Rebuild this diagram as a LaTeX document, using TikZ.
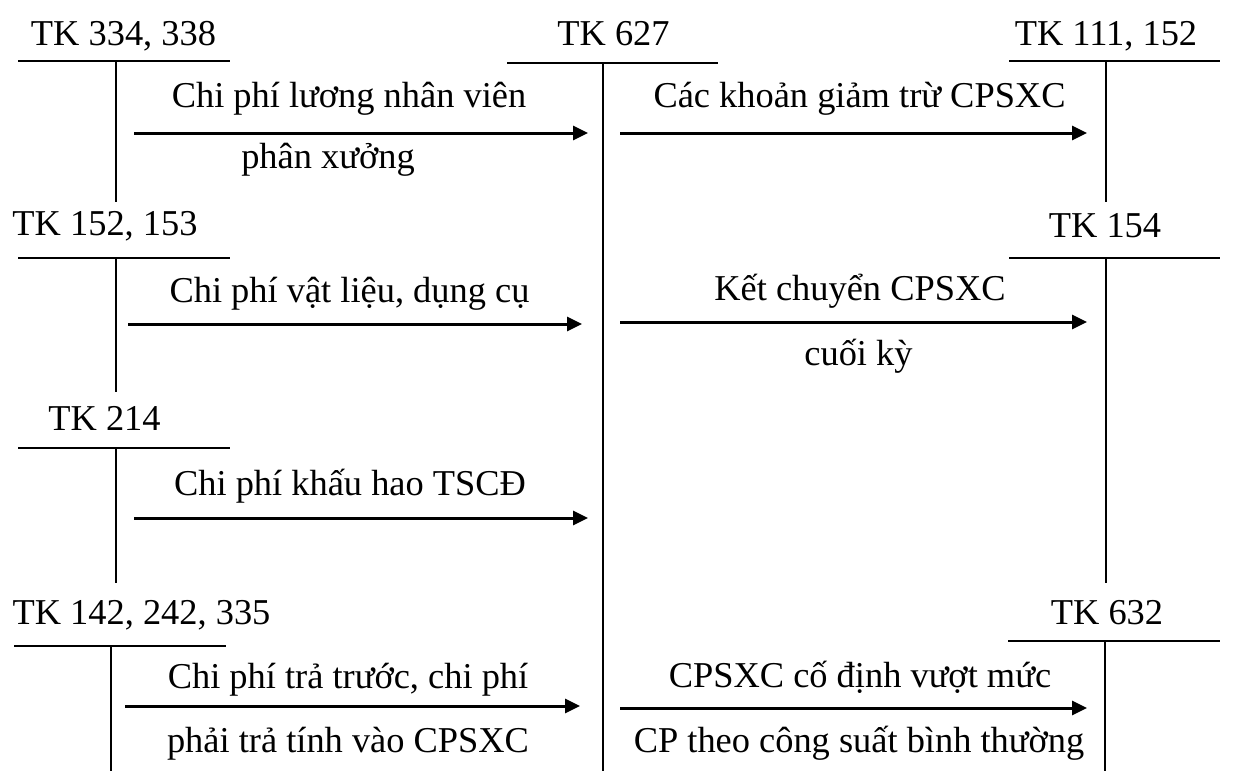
\documentclass[tikz,border=0pt]{standalone}
\usepackage{fontspec}
\setmainfont{Liberation Serif}
\usetikzlibrary{arrows.meta}

% A T-account: name, title, title x, title baseline y,
% bar left x, bar right x, bar y, stem x, stem end y
\newcommand\taccount[9]{%
  \node[acct] (#1) at (#3,#4) {#2};
  \coordinate (#1-l) at (#5,#7);
  \coordinate (#1-r) at (#6,#7);
  \coordinate (#1-t) at (#8,#7);
  \coordinate (#1-b) at (#8,#9);
  \draw[tline] (#1-l) -- (#1-r);
  \draw[tline] (#1-t) -- (#1-b);
}

\begin{document}
\begin{tikzpicture}[
  x=0.5pt, y=-0.5pt,
  every node/.style={font=\fontsize{18.2}{22}\selectfont},
  acct/.style={anchor=base, inner sep=0pt},
  lbl/.style={anchor=base, inner sep=0pt},
  tline/.style={line width=1pt},
  flow/.style={line width=1.5pt, -{Triangle[length=7.5pt,width=7pt]}}
]
\useasboundingbox (0,0) rectangle (1256,771);

% accounts
\taccount{tk334}{TK 334, 338}{123.5}{45}{18}{230}{61}{116}{202}
\taccount{tk627}{TK 627}{613.5}{45}{507}{718}{63}{603}{771}
\taccount{tk111}{TK 111, 152}{1106}{45}{1009}{1220}{61}{1106}{202}
\taccount{tk152}{TK 152, 153}{105}{235}{18}{230}{258}{116}{392}
\taccount{tk154}{TK 154}{1105}{237}{1009}{1220}{258}{1106}{583}
\taccount{tk214}{TK 214}{104.5}{430}{18}{230}{448}{116}{583}
\taccount{tk142}{TK 142, 242, 335}{141.5}{624}{14}{226}{646}{111}{771}
\taccount{tk632}{TK 632}{1107}{624}{1008}{1220}{641}{1105}{771}

% arrow end points
\coordinate (a1s) at (134,133);  \coordinate (a1e) at (588,133);
\coordinate (a2s) at (620,133);  \coordinate (a2e) at (1087,133);
\coordinate (a3s) at (128,324);  \coordinate (a3e) at (582,324);
\coordinate (a4s) at (620,322);  \coordinate (a4e) at (1087,322);
\coordinate (a5s) at (134,518);  \coordinate (a5e) at (588,518);
\coordinate (a6s) at (125,706);  \coordinate (a6e) at (580,706);
\coordinate (a7s) at (620,708);  \coordinate (a7e) at (1087,708);

\draw[flow] (a1s) -- (a1e);
\draw[flow] (a2s) -- (a2e);
\draw[flow] (a3s) -- (a3e);
\draw[flow] (a4s) -- (a4e);
\draw[flow] (a5s) -- (a5e);
\draw[flow] (a6s) -- (a6e);
\draw[flow] (a7s) -- (a7e);

% labels
\node[lbl] (l1a) at (349,107) {Chi phí lương nhân viên};
\node[lbl] (l1b) at (328,168) {phân xưởng};
\node[lbl] (l2a) at (859.5,107) {Các khoản giảm trừ CPSXC};
\node[lbl] (l3a) at (349.5,302) {Chi phí vật liệu, dụng cụ};
\node[lbl] (l4a) at (860,300) {Kết chuyển CPSXC};
\node[lbl] (l4b) at (858.5,365) {cuối kỳ};
\node[lbl] (l5a) at (350,495) {Chi phí khấu hao TSCĐ};
\node[lbl] (l6a) at (348,688) {Chi phí trả trước, chi phí};
\node[lbl] (l6b) at (348,752) {phải trả tính vào CPSXC};
\node[lbl] (l7a) at (860,687) {CPSXC cố định vượt mức};
\node[lbl] (l7b) at (859,752) {CP theo công suất bình thường};
\end{tikzpicture}
\end{document}
